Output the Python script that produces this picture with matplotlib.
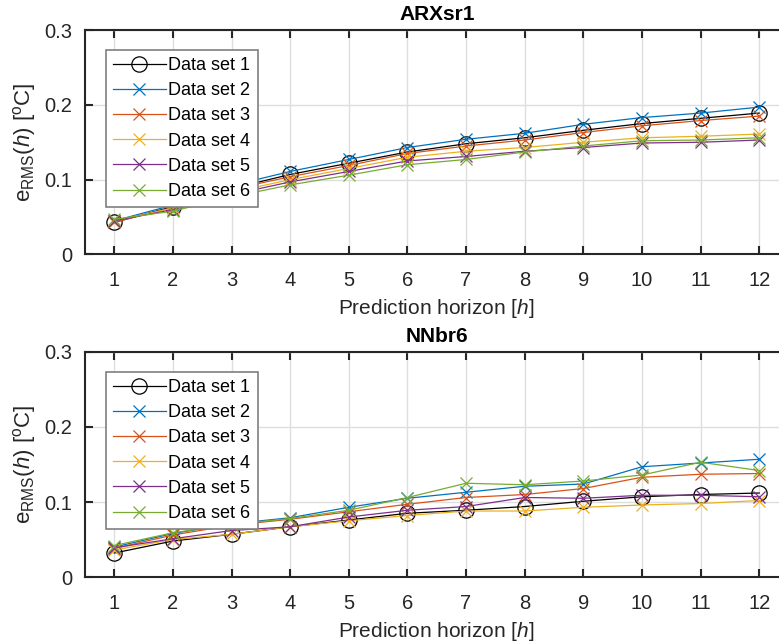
import numpy as np
import matplotlib
matplotlib.use("Agg")
import matplotlib.pyplot as plt

plt.rcParams['font.family'] = ['Liberation Sans', 'DejaVu Sans']
plt.rcParams['mathtext.fontset'] = 'custom'
plt.rcParams['mathtext.rm'] = 'Liberation Sans'
plt.rcParams['mathtext.it'] = 'Liberation Sans:italic'

## data
horizon = [1, 2, 3, 4, 5, 6, 7, 8, 9, 10, 11, 12]
labels = ['Data set 1', 'Data set 2', 'Data set 3', 'Data set 4', 'Data set 5', 'Data set 6']

arx_set1 = [0.043, 0.064, 0.088, 0.107, 0.122, 0.137, 0.148, 0.156, 0.166, 0.175, 0.182, 0.189]
arx_set2 = [0.045, 0.066, 0.092, 0.111, 0.127, 0.143, 0.154, 0.162, 0.174, 0.183, 0.189, 0.197]
arx_set3 = [0.043, 0.063, 0.087, 0.104, 0.119, 0.135, 0.145, 0.153, 0.163, 0.172, 0.179, 0.185]
arx_set4 = [0.045, 0.062, 0.083, 0.100, 0.115, 0.130, 0.138, 0.143, 0.150, 0.156, 0.158, 0.161]
arx_set5 = [0.045, 0.060, 0.080, 0.097, 0.111, 0.125, 0.131, 0.138, 0.143, 0.149, 0.150, 0.153]
arx_set6 = [0.047, 0.058, 0.077, 0.093, 0.106, 0.120, 0.127, 0.137, 0.145, 0.152, 0.153, 0.156]

nn_set1 = [0.032, 0.048, 0.057, 0.067, 0.076, 0.085, 0.089, 0.094, 0.101, 0.107, 0.110, 0.112]
nn_set2 = [0.040, 0.058, 0.071, 0.079, 0.093, 0.105, 0.113, 0.121, 0.124, 0.147, 0.152, 0.157]
nn_set3 = [0.038, 0.056, 0.069, 0.077, 0.087, 0.097, 0.106, 0.110, 0.118, 0.133, 0.137, 0.138]
nn_set4 = [0.036, 0.050, 0.057, 0.067, 0.075, 0.082, 0.088, 0.088, 0.093, 0.096, 0.098, 0.102]
nn_set5 = [0.039, 0.051, 0.062, 0.067, 0.080, 0.089, 0.094, 0.106, 0.105, 0.109, 0.109, 0.107]
nn_set6 = [0.042, 0.059, 0.070, 0.078, 0.089, 0.106, 0.125, 0.123, 0.128, 0.136, 0.153, 0.142]

# matlab default line colours
colors = ['k', '#0072BD', '#D95319', '#EDB120', '#7E2F8E', '#77AC30']
markers = ['o', 'x', 'x', 'x', 'x', 'x']

panels = [
    ('ARXsr1', [arx_set1, arx_set2, arx_set3, arx_set4, arx_set5, arx_set6], [0.1091, 0.6042, 0.9031, 0.3491]),
    ('NNbr6', [nn_set1, nn_set2, nn_set3, nn_set4, nn_set5, nn_set6], [0.1091, 0.1026, 0.9031, 0.3500]),
]

fig = plt.figure(figsize=(7.79, 6.43), dpi=100)
dark = '#262626'

for title, series, pos in panels:
    ax = fig.add_axes(pos)
    for y, lab, c, m in zip(series, labels, colors, markers):
        ms = 11 if m == 'o' else 8.5
        ax.plot(horizon, y, color=c, marker=m, markersize=ms, markerfacecolor='none',
                markeredgewidth=0.9, linewidth=0.9, label=lab)
    ax.set_xlim(0.5, 12.5)
    ax.set_ylim(0, 0.3)
    ax.set_xticks(horizon)
    ax.set_yticks([0, 0.1, 0.2, 0.3])
    ax.set_yticklabels(['0', '0.1', '0.2', '0.3'])
    ax.grid(True, color='#DEDEDE', linewidth=1.0)
    ax.set_axisbelow(True)
    for s in ax.spines.values():
        s.set_linewidth(1.5)
        s.set_color(dark)
    ax.tick_params(direction='in', length=6, width=1.5, top=True, right=True,
                   labelsize=14.5, colors=dark)
    ax.tick_params(axis='x', pad=12)
    ax.tick_params(axis='y', pad=9)
    ax.set_title(title, fontsize=15, fontweight='bold', color='k', pad=7.5)
    ax.set_xlabel(r'Prediction horizon [$h$]', fontsize=15, color=dark, labelpad=5)
    ax.set_ylabel(r'$\mathrm{e_{RMS}(}h\mathrm{)\ [^{o}C]}$', fontsize=16, color=dark, labelpad=5)
    leg = ax.legend(loc='upper left', bbox_to_anchor=(0.030, 0.911), borderaxespad=0,
                    fontsize=13, handlelength=2.9, handletextpad=0.15, labelspacing=0.45,
                    borderpad=0.4, fancybox=False, framealpha=1, edgecolor='#7F7F7F')
    leg.get_frame().set_linewidth(1.2)

fig.savefig('out.png', dpi=100)
